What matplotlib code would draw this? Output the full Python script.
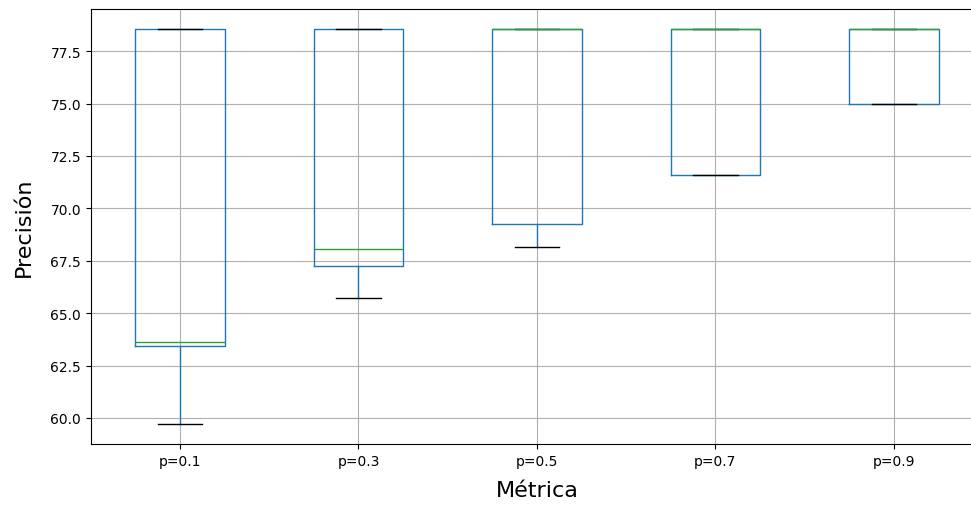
import pandas as pd
import matplotlib.pyplot as plt

p01 = [59.7, 63.45, 63.6, 78.57, 78.57]
p03 = [65.72, 67.25, 68.08, 78.57, 78.57]
p05 = [68.17, 69.23, 78.57, 78.57, 78.57]
p07 = [71.6, 71.6, 78.57, 78.57, 78.57]
p09 = [74.98, 74.98, 78.57, 78.57, 78.57]

df = pd.DataFrame({'p=0.1': p01, 'p=0.3': p03, 'p=0.5': p05,
                   'p=0.7': p07, 'p=0.9': p09})

fig = plt.figure(figsize=(9.71, 5.06), dpi=100)
# the original picture is cut off on the right, so the axes run past the edge
ax = fig.add_axes([0.0935, 0.1206, 0.919, 0.8597])
df.boxplot(ax=ax)
ax.set_xlabel('Métrica', fontsize=16, labelpad=9)
ax.set_ylabel('Precisión', fontsize=16, labelpad=12)
fig.savefig('out.png')
